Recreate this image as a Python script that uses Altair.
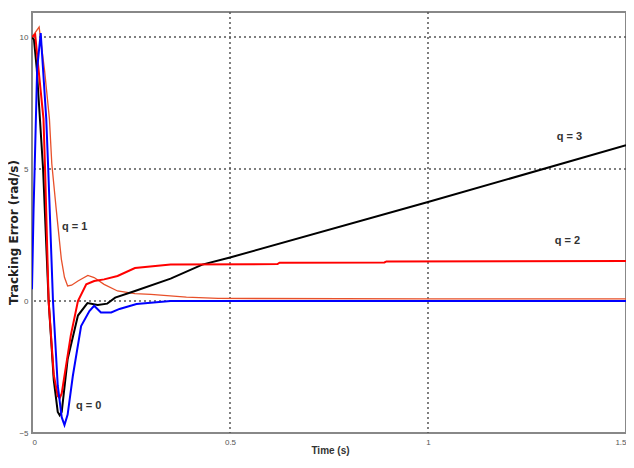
import altair as alt
import pandas as pd

# ---- data ----
t_q0 = [0, 0.004, 0.007, 0.013, 0.022, 0.03, 0.036, 0.041, 0.053, 0.065, 0.075, 0.082, 0.09, 0.103, 0.124, 0.145, 0.157, 0.174, 0.2, 0.221, 0.264, 0.35, 0.5, 1.0, 1.5]
v_q0 = [0.45, 3.5, 5.2, 8.8, 10.15, 8.3, 6.9, 5.0, 0.0, -3.2, -4.4, -4.7, -4.3, -2.85, -0.95, -0.38, -0.18, -0.43, -0.43, -0.3, -0.11, 0.0, 0.0, 0.0, 0.0]

t_q1 = [0, 0.018, 0.032, 0.044, 0.05, 0.061, 0.074, 0.082, 0.09, 0.1, 0.116, 0.141, 0.157, 0.182, 0.216, 0.26, 0.3, 0.39, 0.47, 1.0, 1.5]
v_q1 = [10, 10.38, 8.7, 6.9, 5.2, 3.5, 1.6, 0.9, 0.57, 0.6, 0.76, 0.97, 0.89, 0.63, 0.38, 0.28, 0.25, 0.15, 0.1, 0.08, 0.08]

t_q2 = [0, 0.008, 0.015, 0.029, 0.033, 0.042, 0.055, 0.065, 0.07, 0.075, 0.098, 0.116, 0.137, 0.157, 0.182, 0.216, 0.26, 0.35, 0.62, 0.625, 0.89, 0.895, 1.5]
v_q2 = [10, 10.1, 9.0, 6.9, 5.0, 0.0, -2.8, -3.6, -3.68, -3.5, -1.3, 0.0, 0.63, 0.76, 0.82, 0.95, 1.25, 1.38, 1.4, 1.45, 1.46, 1.5, 1.52]

t_q3 = [0, 0.005, 0.012, 0.028, 0.042, 0.055, 0.065, 0.07, 0.075, 0.09, 0.116, 0.14, 0.166, 0.19, 0.21, 0.26, 0.35, 0.43, 0.5, 1.0, 1.5]
v_q3 = [10, 9.9, 8.8, 5.0, 0.0, -3.0, -4.2, -4.33, -4.2, -2.2, -0.55, -0.08, -0.15, -0.1, 0.13, 0.38, 0.85, 1.38, 1.65, 3.75, 5.9]

series_names = ["q = 0", "q = 1", "q = 2", "q = 3"]
series_colors = ["#0000ff", "#e8502a", "#ff0000", "#000000"]
series_widths = [2, 1.3, 2, 2]

label_text = ["q = 1", "q = 0", "q = 3", "q = 2"]
label_t = [0.108, 0.143, 1.357, 1.352]
label_v = [2.8, -3.97, 6.2, 2.27]

x_ticks = [0, 0.5, 1, 1.5]
y_ticks = [-5, 0, 5, 10]
x_grid = [0.5, 1]
y_grid = [0, 5, 10]

frames = []
for name, ts, vs in zip(series_names, [t_q0, t_q1, t_q2, t_q3], [v_q0, v_q1, v_q2, v_q3]):
    frames.append(pd.DataFrame({"t": ts, "v": vs, "series": name}))
df = pd.concat(frames, ignore_index=True)
labels_df = pd.DataFrame({"t": label_t, "v": label_v, "text": label_text})
xgrid_df = pd.DataFrame({"t": x_grid})
ygrid_df = pd.DataFrame({"v": y_grid})

sans = "Liberation Sans, Arial, sans-serif"

x_scale = alt.Scale(domain=[0, 1.5], nice=False, zero=False)
y_scale = alt.Scale(domain=[-5, 10.95], nice=False, zero=False)

x_axis = alt.Axis(
    values=x_ticks, format="~g", title="Time (s)", domain=False, ticks=False, grid=False,
    labelFont=sans, labelFontSize=8, labelColor="#555", labelPadding=5,
    labelFlush=True,
    titleFont=sans, titleFontSize=10, titleFontWeight="bold", titleColor="#333",
    titleX=298, titleY=17, titleBaseline="middle", titleAlign="center",
)
y_axis = alt.Axis(
    values=y_ticks, format="d", title="Tracking Error (rad/s)", domain=False, ticks=False, grid=False,
    labelFont=sans, labelFontSize=8, labelColor="#555", labelPadding=4,
    labelFlush=False,
    titleFont="DejaVu Sans", titleFontSize=12, titleFontWeight="bold", titleColor="#222",
    titleX=-19, titleY=220, titleBaseline="middle", titleAlign="center", titleAngle=270,
)

X = alt.X("t:Q", scale=x_scale, axis=x_axis)
Y = alt.Y("v:Q", scale=y_scale, axis=y_axis)

grid_style = dict(color="#555", strokeWidth=1.5, strokeDash=[2, 3])
xgrid = alt.Chart(xgrid_df).mark_rule(**grid_style).encode(x=X)
ygrid = alt.Chart(ygrid_df).mark_rule(**grid_style).encode(y=Y)

layers = [xgrid, ygrid]
order = ["q = 1", "q = 3", "q = 2", "q = 0"]
for name in order:
    i = series_names.index(name)
    layers.append(
        alt.Chart(df).transform_filter(alt.datum.series == name)
        .mark_line(color=series_colors[i], strokeWidth=series_widths[i], clip=True)
        .encode(x=X, y=Y)
    )

text_layer = alt.Chart(labels_df).mark_text(
    font=sans, fontSize=11, fontWeight="bold", color="#333", align="center", baseline="middle"
).encode(x=X, y=Y, text="text:N")
layers.append(text_layer)

chart = alt.layer(*layers).properties(
    width=594, height=421,
    autosize=alt.AutoSizeParams(type="none"),
    padding={"left": 24, "top": 4, "right": 0, "bottom": 23},
    background="white",
).configure_view(stroke="#888", strokeWidth=2)

chart.save("out.html", embed_options={"renderer": "svg", "actions": False})
